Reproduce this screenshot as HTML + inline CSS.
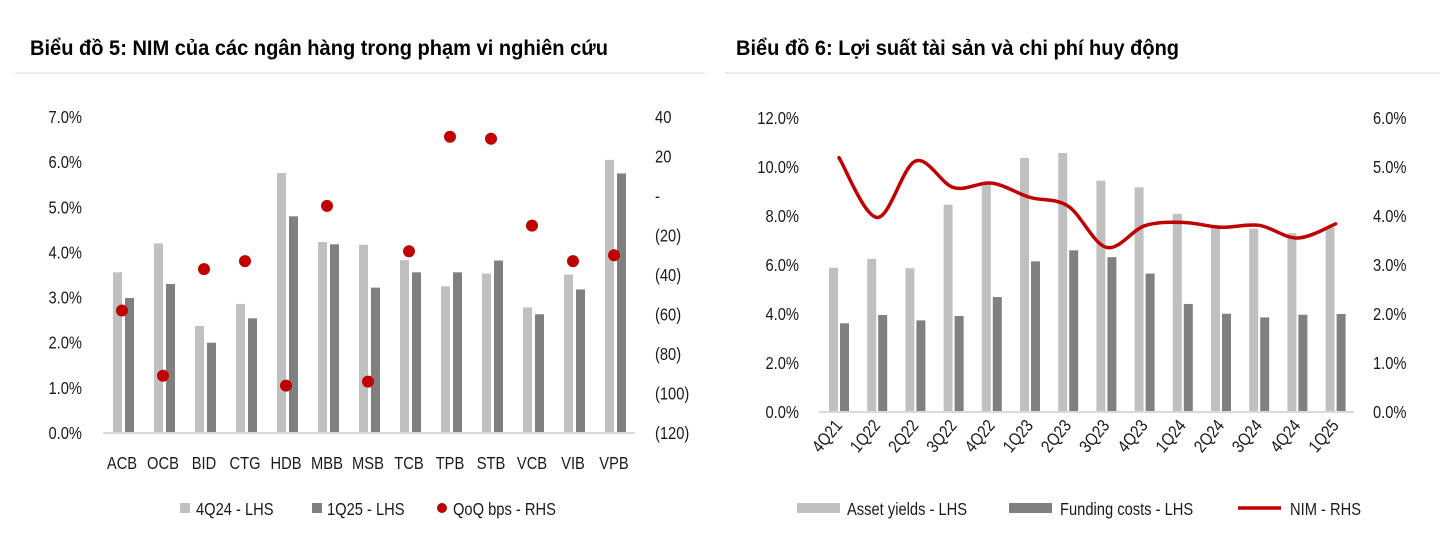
<!DOCTYPE html>
<html><head><meta charset="utf-8"><style>
body{margin:0;background:#fff;}
svg{display:block;font-family:"Liberation Sans Narrow","Liberation Sans",sans-serif;}
.t{font-size:17.5px;fill:#1a1a1a;}
.title{font-size:21px;font-weight:bold;fill:#000;}
</style></head><body>
<svg id="c" width="1451" height="548" viewBox="0 0 1451 548">
<text class="title" x="30" y="55" textLength="578" lengthAdjust="spacingAndGlyphs">Biểu đồ 5: NIM của các ngân hàng trong phạm vi nghiên cứu</text>
<text class="title" x="736" y="55" textLength="443" lengthAdjust="spacingAndGlyphs">Biểu đồ 6: Lợi suất tài sản và chi phí huy động</text>
<line x1="15" y1="73" x2="705" y2="73" stroke="#d8d8d8" stroke-width="1"/>
<line x1="725" y1="73" x2="1440" y2="73" stroke="#d8d8d8" stroke-width="1"/>
<g id="g1"></g>
<g id="g2"></g>
</svg>
<script>
const banks=["ACB","OCB","BID","CTG","HDB","MBB","MSB","TCB","TPB","STB","VCB","VIB","VPB"];
const nim4Q24=[3.56,4.20,2.37,2.86,5.76,4.23,4.17,3.83,3.25,3.53,2.78,3.51,6.05];
const nim1Q25=[2.99,3.30,2.00,2.54,4.80,4.18,3.22,3.56,3.56,3.82,2.63,3.18,5.75];
const qoqBps=[-58,-91,-37,-33,-96,-5,-94,-28,30,29,-15,-33,-30];
const leftTicks1=["0.0%","1.0%","2.0%","3.0%","4.0%","5.0%","6.0%","7.0%"];
const rightTicks1=["(120)","(100)","(80)","(60)","(40)","(20)","-","20","40"];

const quarters=["4Q21","1Q22","2Q22","3Q22","4Q22","1Q23","2Q23","3Q23","4Q23","1Q24","2Q24","3Q24","4Q24","1Q25"];
const assetYields=[5.89,6.25,5.87,8.46,9.28,10.37,10.57,9.44,9.17,8.09,7.55,7.48,7.30,7.54];
const fundingCosts=[3.62,3.96,3.74,3.92,4.69,6.15,6.60,6.32,5.65,4.41,4.01,3.86,3.97,4.00];
const nimSeries=[5.19,3.97,5.12,4.58,4.67,4.38,4.20,3.36,3.80,3.87,3.77,3.81,3.55,3.84];
const leftTicks2=["0.0%","2.0%","4.0%","6.0%","8.0%","10.0%","12.0%"];
const rightTicks2=["0.0%","1.0%","2.0%","3.0%","4.0%","5.0%","6.0%"];

const NS="http://www.w3.org/2000/svg";
function mk(tag,attrs,parent,text){const e=document.createElementNS(NS,tag);for(const k in attrs)e.setAttribute(k,attrs[k]);if(text!==undefined)e.textContent=text;parent.appendChild(e);return e;}
const LIGHT="#c0c0c0",DARK="#808080",RED="#c00000";

// ---- Chart 5
const g1=document.getElementById('g1');
const y1=v=>433-v*(316/7);
const yr1=v=>433-(v+120)*(316/160);
const x1=i=>123+i*41;
leftTicks1.forEach((t,i)=>{const e=mk('text',{class:'t',x:82,y:y1(i)+6,'text-anchor':'end'},g1,t);

});
rightTicks1.forEach((t,i)=>{const e=mk('text',{class:'t',x:655,y:yr1(-120+i*20)+6},g1,t);

});
banks.forEach((b,i)=>{
 const cx=x1(i);
 let r=mk('rect',{x:cx-10,y:y1(nim4Q24[i]),width:9,height:433-y1(nim4Q24[i]),fill:LIGHT},g1);
 
 
 r=mk('rect',{x:cx+2,y:y1(nim1Q25[i]),width:9,height:433-y1(nim1Q25[i]),fill:DARK},g1);
 
 
 const t=mk('text',{class:'t',x:cx-1,y:469,'text-anchor':'middle'},g1,b);
 
 
});
let ax=mk('line',{x1:103,y1:433,x2:635,y2:433,stroke:'#d9d9d9','stroke-width':2},g1);


banks.forEach((b,i)=>{
 const c=mk('circle',{cx:x1(i)-1,cy:yr1(qoqBps[i]),r:6,fill:RED},g1);
 
 
});
// legend 1
let l=mk('rect',{x:180,y:503,width:10,height:10,fill:LIGHT},g1);
l=mk('text',{class:'t',x:196,y:515},g1,'4Q24 - LHS');
l=mk('rect',{x:312,y:503,width:10,height:10,fill:DARK},g1);
l=mk('text',{class:'t',x:327,y:515},g1,'1Q25 - LHS');
l=mk('circle',{cx:442,cy:508,r:5,fill:RED},g1);
l=mk('text',{class:'t',x:453,y:515},g1,'QoQ bps - RHS');

// ---- Chart 6
const g2=document.getElementById('g2');
const y2=v=>412-v*(294/12);
const yr2=v=>412-v*(294/6);
const x2=i=>839+i*38.2;
leftTicks2.forEach((t,i)=>{const e=mk('text',{class:'t',x:799,y:y2(i*2)+6,'text-anchor':'end'},g2,t);

});
rightTicks2.forEach((t,i)=>{const e=mk('text',{class:'t',x:1373,y:yr2(i)+6},g2,t);

});
quarters.forEach((q,i)=>{
 const cx=x2(i);
 let r=mk('rect',{x:cx-10,y:y2(assetYields[i]),width:9,height:412-y2(assetYields[i]),fill:LIGHT},g2);
 
 
 r=mk('rect',{x:cx+1,y:y2(fundingCosts[i]),width:9,height:412-y2(fundingCosts[i]),fill:DARK},g2);
 
 
 const t=mk('text',{class:'t',x:cx+4,y:426,'text-anchor':'end',transform:`rotate(-50 ${cx+4} 426)`},g2,q);
 
 
});
ax=mk('line',{x1:819,y1:412,x2:1354,y2:412,stroke:'#d9d9d9','stroke-width':2},g2);


// smooth NIM line (Catmull-Rom)
const pts=nimSeries.map((v,i)=>[x2(i),yr2(v)]);
let d=`M${pts[0][0]},${pts[0][1]}`;
for(let i=0;i<pts.length-1;i++){
 const p0=pts[i-1]||pts[i],p1=pts[i],p2=pts[i+1],p3=pts[i+2]||p2;
 const c1=[p1[0]+(p2[0]-p0[0])/6,p1[1]+(p2[1]-p0[1])/6];
 const c2=[p2[0]-(p3[0]-p1[0])/6,p2[1]-(p3[1]-p1[1])/6];
 d+=` C${c1[0]},${c1[1]} ${c2[0]},${c2[1]} ${p2[0]},${p2[1]}`;
}
const ln=mk('path',{d:d,fill:'none',stroke:RED,'stroke-width':3.5,'stroke-linecap':'round'},g2);


// legend 2
l=mk('rect',{x:797,y:503,width:43,height:10,fill:LIGHT},g2);
l=mk('text',{class:'t',x:847,y:515},g2,'Asset yields - LHS');
l=mk('rect',{x:1009,y:503,width:43,height:10,fill:DARK},g2);
l=mk('text',{class:'t',x:1060,y:515},g2,'Funding costs - LHS');
l=mk('line',{x1:1238,y1:508,x2:1281,y2:508,stroke:RED,'stroke-width':3.5},g2);
l=mk('text',{class:'t',x:1290,y:515},g2,'NIM - RHS');

// condense text to mimic narrow font
document.querySelectorAll('text.t').forEach(t=>{
 const w=t.getComputedTextLength();
 t.setAttribute('textLength',(w*0.84).toFixed(1));
 t.setAttribute('lengthAdjust','spacingAndGlyphs');
});
</script>
</body></html>
